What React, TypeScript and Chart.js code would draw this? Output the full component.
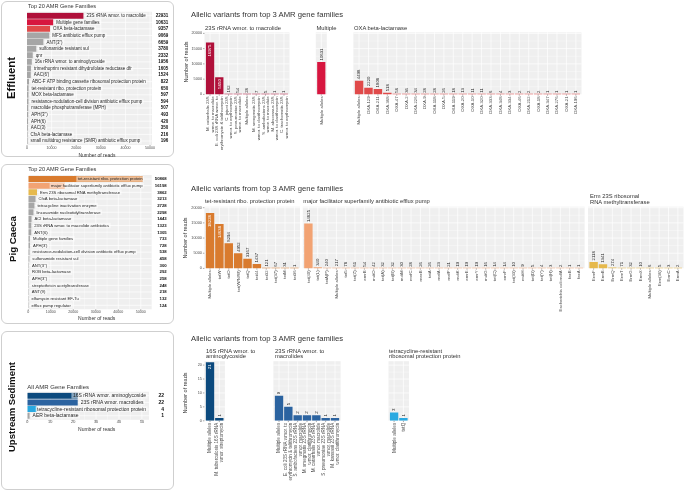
import React, { useEffect, useRef } from "react";
import { Chart, registerables } from "chart.js";

Chart.register(...registerables);

// ===================== DATA =====================
// Effluent – top 20 AMR gene families
const effluentFamilies = [
  "23S rRNA wmor. to macrolide",
  "Multiple gene families",
  "OXA beta-lactamase",
  "MFS antibiotic efflux pump",
  "ANT(3'')",
  "sulfonamide resistant sul",
  "qnr",
  "16s rRNA wmor. to aminoglycoside",
  "trimethoprim resistant dihydrofolate reductase dfr",
  "AAC(6')",
  "ABC-F ATP binding cassette ribosomal protection protein",
  "tet-resistant ribo. protection protein",
  "MOX beta-lactamase",
  "resistance-nodulation-cell division antibiotic efflux pump",
  "macrolide phosphotransferase (MPH)",
  "APH(3'')",
  "APH(6)",
  "AAC(3)",
  "CfxA beta-lactamase",
  "small multidrug resistance (SMR) antibiotic efflux pump",
];
const effluentFamilyReads = [22931, 10631, 9357, 9069, 6659, 3780, 2332, 1956, 1605, 1524, 822, 650, 597, 594, 507, 493, 420, 350, 216, 196];

// Pig caeca – top 20 AMR gene families
const pigFamilies = [
  "tet-resistant ribo. protection protein",
  "major facilitator superfamily antibiotic efflux pump",
  "Erm 23S ribosomal RNA methyltransferase",
  "CfxA beta-lactamase",
  "tetracycline inactivation enzyme",
  "lincosamide nucleotidyltransferase",
  "ACI beta-lactamase",
  "23S rRNA wmor. to macrolide antibiotics",
  "ANT(6)",
  "Multiple gene families",
  "APH(3')",
  "resistance-nodulation-cell division antibiotic efflux pump",
  "sulfonamide resistant sul",
  "ANT(3'')",
  "ROB beta-lactamase",
  "APH(3'')",
  "streptothricin acetyltransferase",
  "ANT(9)",
  "elfamycin resistant EF-Tu",
  "efflux pump regulator",
];
const pigFamilyReads = [50868, 16198, 3862, 3213, 2728, 2298, 1443, 1323, 1305, 733, 728, 538, 458, 300, 292, 258, 248, 218, 132, 124];

// Upstream sediment – all AMR gene families
const sedimentFamilies = [
  "16S rRNA wmor. aminoglycoside",
  "23S rRNA wmor. macrolides",
  "tetracycline-resistant ribosomal protection protein",
  "AER beta-lactamase",
];
const sedimentFamilyReads = [22, 22, 4, 1];

// Effluent allelic variants
const eff23SAlleles: (string | string[])[] = [
  ["M. catarrhalis 23S", "wmor. to macrolide"],
  ["E. coli 23S rRNA wmor. to", "erythromycin & telithromycin"],
  ["C. jejuni 23S", "wmor. to erythromycin"],
  ["S. pneumoniae 23S", "wmor. to macrolide"],
  "Multiple alleles",
  ["M. smegmatis 23S", "wmor. to clarithromycin"],
  ["S. ambofaciens 23S", "wmor. to macrolide"],
  ["M. abscessus 23S", "wmor. to clarithromycin"],
  ["C. trachomatis 23S", "wmor. to erythromycin"],
];
const eff23SReads = [16975, 5650, 162, 54, 28, 7, 5, 1, 1];
const effMultipleAlleles = ["Multiple alleles"];
const effMultipleReads = [10631];
const effOxaAlleles = [
  "Multiple alleles", "OXA-129", "OXA-211", "OXA-368", "OXA-47", "OXA-2", "OXA-226", "OXA-9",
  "OXA-118", "OXA-5", "OXA-119", "OXA-20", "OXA-10", "OXA-320", "OXA-333", "OXA-348",
  "OXA-334", "OXA-46", "OXA-212", "OXA-18", "OXA-347", "OXA-276", "OXA-21", "OXA-196",
];
const effOxaReads = [4498, 2220, 1808, 518, 56, 36, 34, 28, 28, 26, 18, 13, 11, 11, 6, 4, 3, 2, 2, 2, 1, 1, 1, 1];

// Pig caeca allelic variants
const pigTetAlleles = ["Multiple alleles", "tetW", "tetO", "tet(W/N/W)", "tetQ", "tet44", "tet32", "tet(37)", "tetM", "tet36"];
const pigTetReads = [18228, 14638, 8294, 4952, 3167, 1437, 121, 67, 31, 1];
const pigMfsAlleles = [
  "tet(40)", "tet(L)", "tetA(P)", "Multiple alleles", "tet5", "tet(Z)", "emrB", "mdtO", "tet(A)", "tet(B)",
  "mdtM", "mefC", "mexB", "tetA", "mefA", "mefP", "mdtK", "emrE", "emrY", "mdtG",
  "tet(C)", "emrF", "tet(33)", "mdtH", "tet(D)", "tet(Y)", "tet(H)", "Escherichia coli mdfA", "fexB", "fexA",
];
const pigMfsReads = [14825, 340, 240, 217, 78, 61, 54, 42, 32, 32, 30, 28, 26, 26, 23, 21, 19, 19, 19, 16, 14, 14, 10, 9, 5, 4, 3, 2, 1, 1];
const pigErmAlleles = ["ErmF", "ErmB", "ErmQ", "ErmT", "ErmG", "ErmX", "Multiple alleles", "Erm(36)", "ErmC", "ErmA"];
const pigErmReads = [2118, 1341, 274, 71, 32, 10, 6, 5, 3, 2];

// Upstream sediment allelic variants
const sed16SAlleles: (string | string[])[] = ["Multiple alleles", ["M. tuberculosis 16S rRNA", "wmor. streptomycin"]];
const sed16SReads = [21, 1];
const sed23SAlleles: (string | string[])[] = [
  "Multiple alleles",
  ["E. coli 23S rRNA wmor. to", "erythromycin & telithromycin"],
  ["S. ambofaciens 23S rRNA", "wmor. macrolide"],
  ["M. smegmatis 23S rRNA", "wmor. clarithromycin"],
  ["M. catarrhalis 23S rRNA", "wmor. macrolide"],
  ["S. pneumoniae 23S rRNA", "wmor. macrolide"],
  ["M. kansasii 23S rRNA", "wmor. clarithromycin"],
];
const sed23SReads = [9, 5, 2, 2, 2, 1, 1];
const sedTetAlleles = ["Multiple alleles", "tetQ"];
const sedTetReads = [3, 1];

// Axis ticks
const readTicks = [0, 10000, 20000, 30000, 40000, 50000];
const readMinorTicks = [5000, 15000, 25000, 35000, 45000];
const sedimentReadTicks = [0, 10, 20, 30, 40, 50];
const sedimentReadMinorTicks = [5, 15, 25, 35, 45];
const alleleTicks = [0, 5000, 10000, 15000, 20000];
const alleleMinorTicks = [2500, 7500, 12500, 17500];
const sedimentAlleleTicks = [0, 5, 10, 15, 20];
const sedimentAlleleMinorTicks = [2.5, 7.5, 12.5, 17.5];

// ===================== STYLE / LAYOUT =====================
const FONT = '"Liberation Sans", Arial, Helvetica, sans-serif';
const PANEL_BG = "#EFEFEF";
const GRID = "#FFFFFF";
const AXIS_TXT = "#4D4D4D";
const LABEL_TXT = "#1E1E1E";
const GRAY_BAR = "#A6A6A6";

type Lab = string | string[];
interface CanvasSpec { key: string; x: number; y: number; w: number; h: number; config: any; }

function line(ctx: CanvasRenderingContext2D, x1: number, y1: number, x2: number, y2: number) {
  ctx.beginPath();
  ctx.moveTo(x1, y1);
  ctx.lineTo(x2, y2);
  ctx.stroke();
}

interface LeftSpec {
  key: string; labels: string[]; values: number[]; topColors: string[];
  L: number; R: number; T: number; B: number; max: number;
  ticks: number[]; minor: number[]; tickY: number;
  valueX: number; labelSize: number; valueSize: number; tickSize: number; labelLimit: number;
  cy: number; ch: number;
}

function leftCanvas(s: LeftSpec): CanvasSpec {
  const x = 0, y = s.cy, w = 176, h = s.ch;
  const colors = s.values.map((_, i) => s.topColors[i] ?? GRAY_BAR);
  const plugin = {
    id: "leftPanel",
    beforeDatasetsDraw(chart: any) {
      const { ctx, chartArea: ca } = chart;
      const xs = chart.scales.x, ys = chart.scales.y;
      const u = (ca.bottom - ca.top) / s.values.length;
      const top = ca.top - 0.1 * u, bot = ca.bottom + 0.1 * u;
      ctx.save();
      ctx.fillStyle = PANEL_BG;
      ctx.fillRect(ca.left, top, ca.right - ca.left, bot - top);
      ctx.strokeStyle = GRID;
      ctx.lineWidth = 0.35;
      s.minor.forEach((m) => { const p = xs.getPixelForValue(m); line(ctx, p, top, p, bot); });
      ctx.lineWidth = 0.7;
      s.ticks.forEach((t) => { const p = xs.getPixelForValue(t); line(ctx, p, top, p, bot); });
      s.values.forEach((_, i) => { const p = ys.getPixelForValue(i); line(ctx, ca.left, p, ca.right, p); });
      ctx.restore();
    },
    afterDatasetsDraw(chart: any) {
      const { ctx, chartArea: ca } = chart;
      const xs = chart.scales.x, ys = chart.scales.y;
      const u = (ca.bottom - ca.top) / s.values.length;
      ctx.save();
      ctx.textBaseline = "middle";
      ctx.font = `${s.labelSize}px ${FONT}`;
      const limit = s.labelLimit - x;
      s.values.forEach((v, i) => {
        const end = xs.getPixelForValue(v);
        const py = ys.getPixelForValue(i);
        const lab = s.labels[i];
        const tw = ctx.measureText(lab).width;
        let tx = end + 3;
        if (tx + tw > limit) tx = limit - tw;
        ctx.fillStyle = "rgba(255,255,255,0.5)";
        ctx.fillRect(tx - 1.5, py - u * 0.42, tw + 3, u * 0.84);
        ctx.fillStyle = LABEL_TXT;
        ctx.textAlign = "left";
        ctx.fillText(lab, tx, py + 0.2);
      });
      ctx.font = `bold ${s.valueSize}px ${FONT}`;
      ctx.textAlign = "right";
      ctx.fillStyle = "#111";
      s.values.forEach((v, i) => ctx.fillText(String(v), s.valueX - x, ys.getPixelForValue(i) + 0.2));
      ctx.strokeStyle = "#555";
      ctx.lineWidth = 0.5;
      ctx.font = `${s.tickSize}px ${FONT}`;
      ctx.textAlign = "center";
      ctx.fillStyle = AXIS_TXT;
      const bot = ca.bottom + 0.1 * u;
      s.ticks.forEach((t) => {
        const p = xs.getPixelForValue(t);
        line(ctx, p, bot, p, bot + 1.3);
        ctx.fillText(String(t), p, s.tickY - y);
      });
      ctx.restore();
    },
  };
  const config = {
    type: "bar",
    data: {
      labels: s.labels,
      datasets: [{ data: s.values, backgroundColor: colors, barPercentage: 0.9, categoryPercentage: 1, minBarLength: 0.6 }],
    },
    options: {
      indexAxis: "y",
      responsive: false,
      animation: false,
      devicePixelRatio: 1,
      events: [],
      layout: { padding: { left: s.L - x, right: x + w - s.R, top: s.T - y, bottom: y + h - s.B } },
      plugins: { legend: { display: false }, tooltip: { enabled: false }, title: { display: false } },
      scales: {
        y: { type: "category", display: false, offset: true },
        x: { type: "linear", display: false, min: 0, max: s.max },
      },
    },
    plugins: [plugin],
  };
  return { key: s.key, x, y, w, h, config };
}

interface RowSpec {
  top: number; bottom: number; max: number; ticks: number[]; minor: number[];
  tickSize: number; labelSize: number; valueSize: number;
}
interface FacetSpec { key: string; labels: Lab[]; values: number[]; color: string; x0: number; x1: number; inside: number; yAxis: boolean; }

function facetCanvas(row: RowSpec, f: FacetSpec): CanvasSpec {
  const n = f.values.length;
  const u = (f.x1 - f.x0) / (n + 0.2);
  const L = f.x0 + 0.1 * u, R = f.x1 - 0.1 * u;
  const x = Math.floor(f.x0 - (f.yAxis ? 28 : 4));
  const y = Math.floor(row.top - 26);
  const w = Math.ceil(f.x1 + 4 - x);
  const h = Math.ceil(row.bottom + 62 - y);
  const plugin = {
    id: "facetPanel",
    beforeDatasetsDraw(chart: any) {
      const { ctx, chartArea: ca } = chart;
      const xs = chart.scales.x, ys = chart.scales.y;
      const x0 = f.x0 - x, x1 = f.x1 - x;
      ctx.save();
      ctx.fillStyle = PANEL_BG;
      ctx.fillRect(x0, ca.top, x1 - x0, ca.bottom - ca.top);
      ctx.strokeStyle = GRID;
      ctx.lineWidth = 0.35;
      row.minor.forEach((m) => { const p = ys.getPixelForValue(m); line(ctx, x0, p, x1, p); });
      ctx.lineWidth = 0.7;
      row.ticks.forEach((t) => { const p = ys.getPixelForValue(t); line(ctx, x0, p, x1, p); });
      f.values.forEach((_, i) => { const p = xs.getPixelForValue(i); line(ctx, p, ca.top, p, ca.bottom); });
      ctx.restore();
    },
    afterDatasetsDraw(chart: any) {
      const { ctx, chartArea: ca } = chart;
      const xs = chart.scales.x, ys = chart.scales.y;
      const x0 = f.x0 - x;
      ctx.save();
      ctx.textBaseline = "middle";
      // value labels
      ctx.font = `${row.valueSize}px ${FONT}`;
      f.values.forEach((v, i) => {
        const px = xs.getPixelForValue(i);
        const py = ys.getPixelForValue(v);
        ctx.save();
        ctx.translate(px, py);
        ctx.rotate(-Math.PI / 2);
        if (i < f.inside) {
          ctx.fillStyle = "#FFFFFF";
          ctx.textAlign = "right";
          ctx.fillText(String(v), -2, 0.2);
        } else {
          ctx.fillStyle = "#222";
          ctx.textAlign = "left";
          ctx.fillText(String(v), 1.5, 0.2);
        }
        ctx.restore();
      });
      // x tick labels
      ctx.font = `${row.labelSize}px ${FONT}`;
      ctx.fillStyle = AXIS_TXT;
      ctx.strokeStyle = "#555";
      ctx.lineWidth = 0.5;
      f.labels.forEach((lab, i) => {
        const px = xs.getPixelForValue(i);
        line(ctx, px, ca.bottom, px, ca.bottom + 1.3);
        const lines = Array.isArray(lab) ? lab : [lab];
        const lh = row.labelSize * 1.05;
        ctx.save();
        ctx.translate(px, ca.bottom + 2);
        ctx.rotate(-Math.PI / 2);
        ctx.textAlign = "right";
        lines.forEach((ln, j) => ctx.fillText(ln, 0, (j - (lines.length - 1) / 2) * lh + 0.2));
        ctx.restore();
      });
      // y axis
      if (f.yAxis) {
        ctx.font = `${row.tickSize}px ${FONT}`;
        ctx.textAlign = "right";
        row.ticks.forEach((t) => {
          const py = ys.getPixelForValue(t);
          line(ctx, x0 - 1.5, py, x0, py);
          ctx.fillText(String(t), x0 - 2.5, py);
        });
      }
      ctx.restore();
    },
  };
  const config = {
    type: "bar",
    data: {
      labels: f.labels,
      datasets: [{ data: f.values, backgroundColor: f.color, barPercentage: 0.9, categoryPercentage: 1, minBarLength: 0.7 }],
    },
    options: {
      responsive: false,
      animation: false,
      devicePixelRatio: 1,
      events: [],
      layout: { padding: { left: L - x, right: x + w - R, top: row.top - y, bottom: y + h - row.bottom } },
      plugins: { legend: { display: false }, tooltip: { enabled: false }, title: { display: false } },
      scales: {
        x: { type: "category", display: false, offset: true },
        y: { type: "linear", display: false, min: 0, max: row.max },
      },
    },
    plugins: [plugin],
  };
  return { key: f.key, x, y, w, h, config };
}

const EFF_COLORS = ["#B0103A", "#D7163F", "#E04A4A"];
const PIG_COLORS = ["#D97B2E", "#F2A373", "#E6B94C"];
const SED_COLORS = ["#0C4A7E", "#2B63A0", "#29A9E1"];

const effluentRow: RowSpec = { top: 32.3, bottom: 94.4, max: 20350, ticks: alleleTicks, minor: alleleMinorTicks, tickSize: 3.8, labelSize: 4.3, valueSize: 4.3 };
const pigRow: RowSpec = { top: 206.7, bottom: 268.4, max: 20330, ticks: alleleTicks, minor: alleleMinorTicks, tickSize: 3.8, labelSize: 4.3, valueSize: 4.3 };
const sedimentRow: RowSpec = { top: 361.2, bottom: 420.8, max: 21.4, ticks: sedimentAlleleTicks, minor: sedimentAlleleMinorTicks, tickSize: 3.8, labelSize: 4.6, valueSize: 4.4 };

const SPECS: CanvasSpec[] = [
  leftCanvas({
    key: "effLeft", labels: effluentFamilies, values: effluentFamilyReads, topColors: EFF_COLORS,
    L: 27, R: 152, T: 12.4, B: 144.3, max: 50800, ticks: readTicks, minor: readMinorTicks, tickY: 148.3,
    valueX: 168.3, labelSize: 4.5, valueSize: 4.5, tickSize: 3.6, labelLimit: 148, cy: 0, ch: 160,
  }),
  leftCanvas({
    key: "pigLeft", labels: pigFamilies, values: pigFamilyReads, topColors: PIG_COLORS,
    L: 28.3, R: 151.7, T: 175.7, B: 308.6, max: 54850, ticks: readTicks, minor: readMinorTicks, tickY: 311.9,
    valueX: 166.7, labelSize: 4.2, valueSize: 4.3, tickSize: 3.6, labelLimit: 142.5, cy: 165, ch: 158,
  }),
  leftCanvas({
    key: "sedLeft", labels: sedimentFamilies, values: sedimentFamilyReads, topColors: SED_COLORS,
    L: 27.3, R: 149, T: 392.4, B: 419.1, max: 53.1, ticks: sedimentReadTicks, minor: sedimentReadMinorTicks, tickY: 422.4,
    valueX: 164, labelSize: 5, valueSize: 5, tickSize: 3.8, labelLimit: 146, cy: 384, ch: 44,
  }),
  facetCanvas(effluentRow, { key: "eff23S", labels: eff23SAlleles, values: eff23SReads, color: EFF_COLORS[0], x0: 204.5, x1: 289.5, inside: 2, yAxis: true }),
  facetCanvas(effluentRow, { key: "effMult", labels: effMultipleAlleles, values: effMultipleReads, color: EFF_COLORS[1], x0: 315.8, x1: 326.8, inside: 0, yAxis: false }),
  facetCanvas(effluentRow, { key: "effOxa", labels: effOxaAlleles, values: effOxaReads, color: EFF_COLORS[2], x0: 353.4, x1: 581.5, inside: 0, yAxis: false }),
  facetCanvas(pigRow, { key: "pigTet", labels: pigTetAlleles, values: pigTetReads, color: PIG_COLORS[0], x0: 204.4, x1: 300, inside: 2, yAxis: true }),
  facetCanvas(pigRow, { key: "pigMfs", labels: pigMfsAlleles, values: pigMfsReads, color: PIG_COLORS[1], x0: 302.8, x1: 584.6, inside: 0, yAxis: false }),
  facetCanvas(pigRow, { key: "pigErm", labels: pigErmAlleles, values: pigErmReads, color: PIG_COLORS[2], x0: 588, x1: 683.5, inside: 0, yAxis: false }),
  facetCanvas(sedimentRow, { key: "sed16S", labels: sed16SAlleles, values: sed16SReads, color: SED_COLORS[0], x0: 204.4, x1: 224.9, inside: 1, yAxis: true }),
  facetCanvas(sedimentRow, { key: "sed23S", labels: sed23SAlleles, values: sed23SReads, color: SED_COLORS[1], x0: 273.4, x1: 340.6, inside: 0, yAxis: false }),
  facetCanvas(sedimentRow, { key: "sedTet", labels: sedTetAlleles, values: sedTetReads, color: SED_COLORS[2], x0: 388.5, x1: 409, inside: 0, yAxis: false }),
];

interface TextSpec { t: string; x: number; y: number; size: number; bold?: boolean; rot?: boolean; center?: boolean; color?: string; }

const TEXTS: TextSpec[] = [
  // Effluent
  { t: "Effluent", x: 12, y: 78, size: 11.3, bold: true, rot: true, color: "#111" },
  { t: "Top 20 AMR Gene Families", x: 28, y: 6.8, size: 5.6 },
  { t: "Number of reads", x: 97, y: 155, size: 5, center: true },
  { t: "Allelic variants from top 3 AMR gene families", x: 191, y: 15.3, size: 7.7 },
  { t: "23S rRNA wmor. to macrolide", x: 205, y: 29.3, size: 5.8 },
  { t: "Multiple", x: 316.5, y: 29.3, size: 5.8 },
  { t: "OXA beta-lactamase", x: 354, y: 29.3, size: 5.8 },
  { t: "Number of reads", x: 187, y: 62, size: 5.5, rot: true },
  // Pig caeca
  { t: "Pig Caeca", x: 12.7, y: 239, size: 9.6, bold: true, rot: true, color: "#111" },
  { t: "Top 20 AMR Gene Families", x: 28.3, y: 170.3, size: 5.6 },
  { t: "Number of reads", x: 96.7, y: 318.3, size: 5, center: true },
  { t: "Allelic variants from top 3 AMR gene families", x: 191, y: 189.3, size: 7.7 },
  { t: "tet-resistant ribo. protection protein", x: 205, y: 202.3, size: 5.8 },
  { t: "major facilitator superfamily antibiotic efflux pump", x: 303.3, y: 202.3, size: 5.8 },
  { t: "Erm 23S ribosomal", x: 590, y: 197, size: 5.8 },
  { t: "RNA methyltransferase", x: 590, y: 203.3, size: 5.8 },
  { t: "Number of reads", x: 186, y: 238, size: 5.5, rot: true },
  // Upstream sediment
  { t: "Upstream Sediment", x: 12.3, y: 407, size: 9.6, bold: true, rot: true, color: "#111" },
  { t: "All AMR Gene Families", x: 27.3, y: 386.7, size: 6 },
  { t: "Number of reads", x: 96.7, y: 429, size: 5, center: true },
  { t: "Allelic variants from top 3 AMR gene families", x: 191, y: 339, size: 7.7 },
  { t: "16S rRNA wmor. to", x: 206, y: 351.7, size: 5.8 },
  { t: "aminoglycoside", x: 206, y: 356.9, size: 5.8 },
  { t: "23S rRNA wmor. to", x: 275, y: 351.7, size: 5.8 },
  { t: "macrolides", x: 275, y: 356.9, size: 5.8 },
  { t: "tetracycline-resistant", x: 389, y: 351.7, size: 5.8 },
  { t: "ribosomal protection protein", x: 389, y: 356.9, size: 5.8 },
  { t: "Number of reads", x: 186, y: 393, size: 5.5, rot: true },
];

const BOXES = [
  { x: 1, y: 1, w: 173, h: 156 },
  { x: 1, y: 164, w: 173, h: 160 },
  { x: 1, y: 330.5, w: 173, h: 159 },
];

function ChartCanvas({ spec }: { spec: CanvasSpec }) {
  const ref = useRef<HTMLCanvasElement | null>(null);
  useEffect(() => {
    if (!ref.current) return;
    const chart = new Chart(ref.current, spec.config);
    return () => chart.destroy();
  }, [spec]);
  return (
    <canvas
      ref={ref}
      width={spec.w}
      height={spec.h}
      style={{ position: "absolute", left: spec.x, top: spec.y, width: spec.w, height: spec.h }}
    />
  );
}

function TextItem({ s }: { s: TextSpec }) {
  const transform = s.rot
    ? "translate(-50%,-50%) rotate(-90deg)"
    : s.center
    ? "translate(-50%,-50%)"
    : "translateY(-50%)";
  return (
    <div
      style={{
        position: "absolute",
        left: s.x,
        top: s.y,
        transform,
        fontSize: s.size,
        fontWeight: s.bold ? 700 : 400,
        fontFamily: FONT,
        color: s.color ?? "#333",
        whiteSpace: "nowrap",
        lineHeight: 1,
      }}
    >
      {s.t}
    </div>
  );
}

export default function App() {
  return (
    <div style={{ position: "absolute", left: 0, top: 0, width: 685, height: 491, background: "#fff", overflow: "hidden" }}>
      {BOXES.map((b, i) => (
        <div
          key={"box" + i}
          style={{
            position: "absolute",
            left: b.x,
            top: b.y,
            width: b.w,
            height: b.h,
            border: "1px solid #CFCFCF",
            borderRadius: 6,
            boxSizing: "border-box",
          }}
        />
      ))}
      {SPECS.map((s) => (
        <ChartCanvas key={s.key} spec={s} />
      ))}
      {TEXTS.map((s, i) => (
        <TextItem key={"t" + i} s={s} />
      ))}
    </div>
  );
}
